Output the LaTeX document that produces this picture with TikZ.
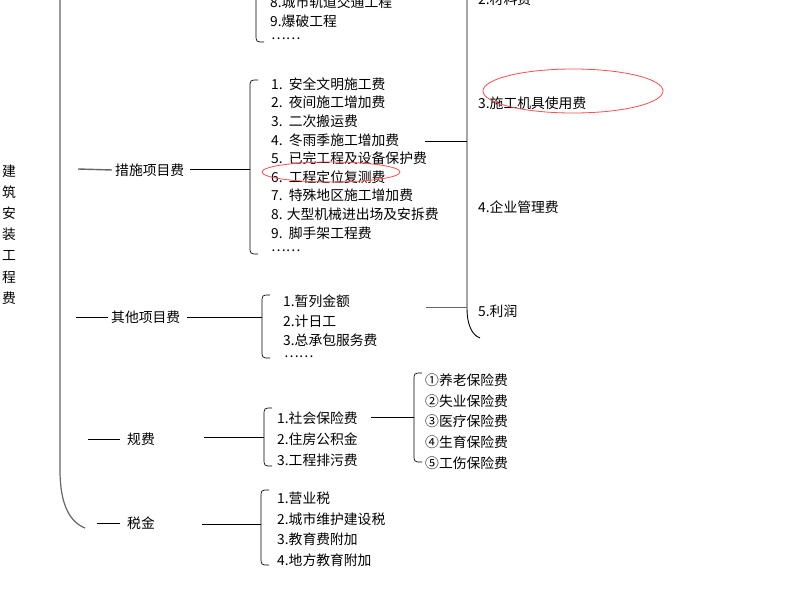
\documentclass[tikz,border=0pt]{standalone}
\usepackage{fontspec}
\setmainfont{Noto Sans CJK SC}
\begin{document}
\begin{tikzpicture}[x=1pt,y=-1pt,
  txt/.style={anchor=west,inner sep=0pt,font=\fontsize{13.8}{15}\selectfont},
  ln/.style={draw=black,line width=0.8pt},
  gl/.style={draw=gray!80!black,line width=1.4pt},
  ov/.style={draw=red!70,line width=0.8pt}]
\useasboundingbox (0,0) rectangle (794,589);
\clip (0,0) rectangle (794,589);
% title
\foreach \c [count=\i] in {建,筑,安,装,工,程,费}
  \node[txt] (t\i) at (2,{171+21.2*(\i-1)}) {\c};
% main bracket
\draw[gl,line width=1.2pt] (60,-5) -- (60,470) .. controls (60,505) and (70,522) .. (85,528);
% branches
\node[txt] (a) at (115,170) {措施项目费};
\node[txt] (b) at (111,317) {其他项目费};
\node[txt] (c) at (127,439) {规费};
\node[txt] (d) at (127,523) {税金};
\draw[gl] (78,169) -- ([xshift=-3pt]a.west);
\draw[ln] (76,317) -- ([xshift=-3pt]b.west);
\draw[ln] (88,439) -- ([xshift=-7pt]c.west);
\draw[ln] (97,523) -- ([xshift=-7pt]d.west);
% brackets
\newcommand\brk[3]{\draw[ln,line width=0.7pt] (#1+8,#2) .. controls (#1,#2) .. (#1,#2+8) -- (#1,#3-8) .. controls (#1,#3) .. (#1+8,#3);}
\brk{256}{-20}{42}
\brk{250}{80}{254}
\brk{262}{295}{358}
\brk{264}{408}{466}
\brk{261}{490}{565}
\brk{414}{373}{462}
\coordinate (ba) at (250,169);
\coordinate (bb) at (262,317);
\coordinate (bc) at (264,437);
\coordinate (bd) at (261,524);
\draw[ln] (190,169) -- (ba);
\draw[ln] (187,317) -- (bb);
\draw[ln] (204,437) -- (bc);
\draw[ln] (202,524) -- (bd);
% top list
\node[txt] (u8) at (270,2) {8.城市轨道交通工程};
\node[txt] (u9) at (270,21) {9.爆破工程};
\node[txt] (ud) at (271,39) {……};
% measure list
\foreach \t [count=\i] in {1.\ \ 安全文明施工费,2.\ \ 夜间施工增加费,3.\ \ 二次搬运费,4.\ \ 冬雨季施工增加费,5.\ \ 已完工程及设备保护费,6.\ \ 工程定位复测费,7.\ \ 特殊地区施工增加费,8. 大型机械进出场及安拆费,9.\ \ 脚手架工程费}
  \node[txt] (m\i) at (271,{84+18.6*(\i-1)}) {\t};
\node[txt] (md) at (271,251) {……};
% other list
\node[txt] (o1) at (283,301) {1.暂列金额};
\node[txt] (o2) at (283,321) {2.计日工};
\node[txt] (o3) at (283,340) {3.总承包服务费};
\node[txt] (od) at (284,357) {……};
% fee list
\node[txt] (f1) at (277,418) {1.社会保险费};
\node[txt] (f2) at (277,439) {2.住房公积金};
\node[txt] (f3) at (277,460) {3.工程排污费};
\coordinate (bs) at (414,417);
\draw[ln] (371,417) -- (bs);
\foreach \t [count=\i] in {①养老保险费,②失业保险费,③医疗保险费,④生育保险费,⑤工伤保险费}
  \node[txt] (s\i) at (425,{380+20.8*(\i-1)}) {\t};
% tax list
\node[txt] (x1) at (277,498) {1.营业税};
\node[txt] (x2) at (277,519) {2.城市维护建设税};
\node[txt] (x3) at (277,539) {3.教育费附加};
\node[txt] (x4) at (277,560) {4.地方教育附加};
% right bracket
\draw[ln,line width=0.9pt] (467,-5) -- (467,308) .. controls (467,325) and (472,335) .. (480,338);
\coordinate (r1) at (467,141);
\coordinate (r2) at (467,307);
\draw[ln] (425,141) -- (r1);
\draw[gl,line width=1pt] (426,307) -- (r2);
\node[txt] (r2t) at (478,-1) {2.材料费};
\node[txt] (r3t) at (478,103) {3.施工机具使用费};
\node[txt] (r4t) at (478,207) {4.企业管理费};
\node[txt] (r5t) at (478,311) {5.利润};
% red ellipses
\draw[ov] (573,91) ellipse [x radius=90, y radius=22];
\draw[ov] (331,172) ellipse [x radius=69, y radius=10];
\end{tikzpicture}
\end{document}
